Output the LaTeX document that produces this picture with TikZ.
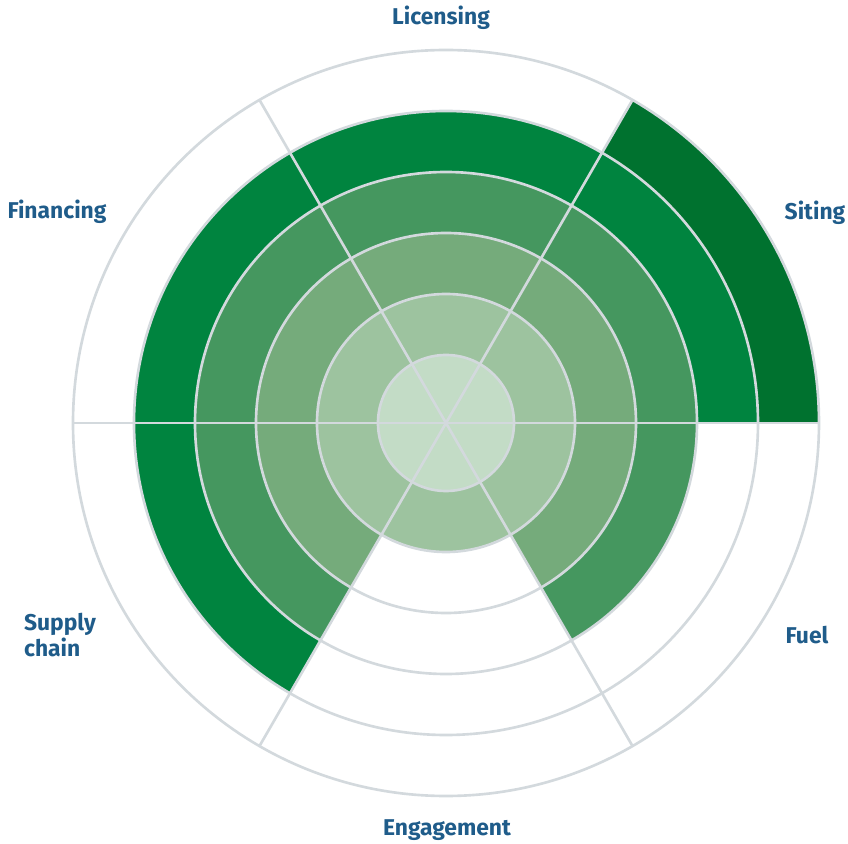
\documentclass[tikz,border=0pt]{standalone}
\usepackage{fontspec}
\setmainfont{Fira Sans}
\usetikzlibrary{positioning}
\definecolor{ringA}{HTML}{C3DCC6}
\definecolor{ringB}{HTML}{9DC39F}
\definecolor{ringC}{HTML}{75AB7B}
\definecolor{ringD}{HTML}{45975F}
\definecolor{ringE}{HTML}{00843F}
\definecolor{ringF}{HTML}{00722F}
\definecolor{gridgray}{HTML}{D3D9DD}
\definecolor{labelblue}{HTML}{1F5C8A}
\tikzset{gridline/.style =
   {draw=gridgray,
    line width=1.5pt}}
\tikzset{axislabel/.style =
   {text=labelblue,
    align=left,
    inner sep=0pt,
    font=\bfseries\fontsize{13}{15}\selectfont}}

\begin{document}
\begin{tikzpicture}[scale=0.02]

    \useasboundingbox (-446,-421) rectangle (402,423);

    % sectors: start angle / number of filled rings
    \foreach \a/\n in {0/6, 60/5, 120/5, 180/5, 240/2, 300/4} {
        \foreach \k/\ri/\ro/\c in {1/0/68/ringA, 2/68/129/ringB,
                                   3/129/190/ringC, 4/190/251/ringD,
                                   5/251/312/ringE, 6/312/373/ringF} {
            \ifnum\k>\n\relax\else
                \fill [\c] (\a:\ri) arc [start angle=\a, end angle=\a+60, radius=\ri]
                    -- ({\a+60}:\ro) arc [start angle=\a+60, end angle=\a, radius=\ro]
                    -- cycle;
            \fi
        }
    }

    % grid
    \coordinate (centre) at (0,0);
    \foreach \r in {68, 129, 190, 251, 312, 373}
        \draw [gridline] (centre) circle [radius=\r];
    \foreach \a in {0, 60, ..., 300} {
        \coordinate (spoke\a) at (\a:373);
        \draw [gridline] (centre) -- (spoke\a);
    }

    % labels
    \node [axislabel] (licensing) at (-5,405) {Licensing};
    \node [axislabel] (siting) at (369,210) {Siting};
    \node [axislabel] (financing) at (-389,211) {Financing};
    \node [axislabel] (supply) at (-386,-212) {Supply\\chain};
    \node [axislabel] (fuel) at (361,-212) {Fuel};
    \node [axislabel] (engagement) at (1,-407) {Engagement};

\end{tikzpicture}
\end{document}
